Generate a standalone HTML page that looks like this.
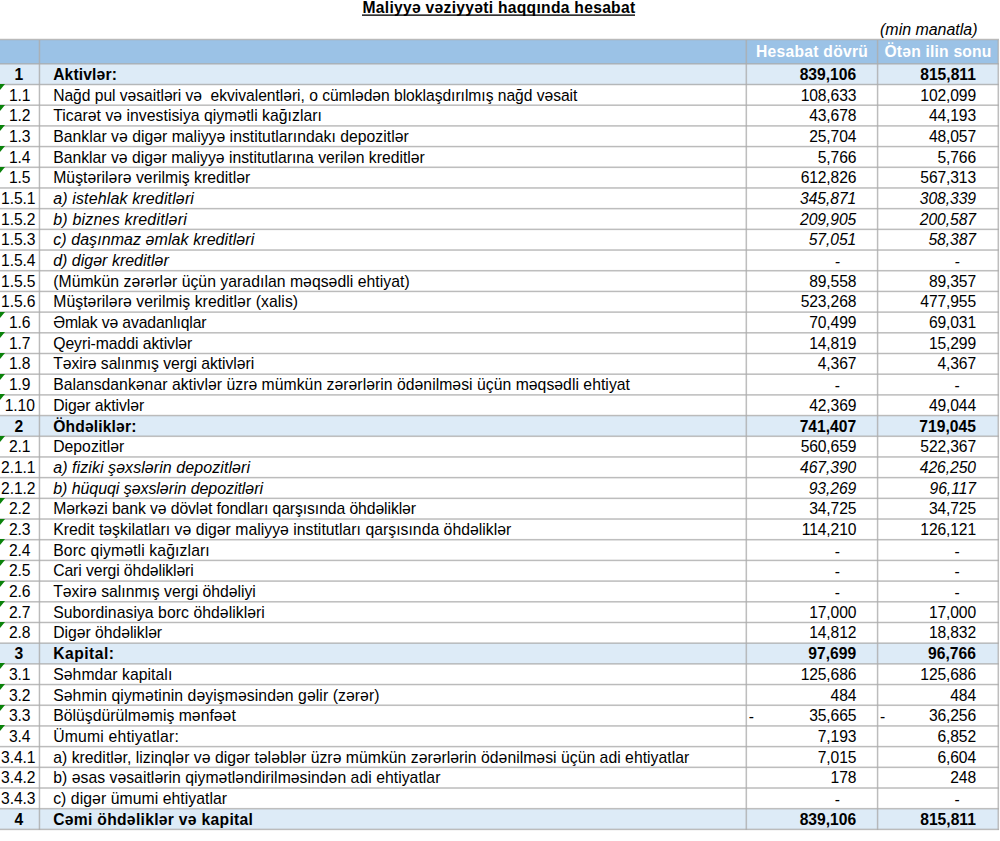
<!DOCTYPE html>
<html><head><meta charset="utf-8"><title>Maliyyə vəziyyəti haqqında hesabat</title>
<style>
*{margin:0;padding:0;box-sizing:border-box}
html,body{width:1000px;height:841px;background:#fff;overflow:hidden}
body{position:relative;font-family:"Liberation Sans",sans-serif;color:#000}
.t{position:absolute;white-space:nowrap;line-height:20px}
.b{font-weight:bold}
.i{font-style:italic}
.w{color:#fff}
.tri{position:absolute;left:0;width:0;height:0;border-top:6px solid #0a820a;border-right:5.5px solid transparent}
</style></head>
<body>
<div style="position:absolute;left:0;width:998px;top:40px;height:24px;background:#9bc2e6"></div>
<div style="position:absolute;left:0;width:998px;top:64px;height:21px;background:#ddebf7"></div>
<div style="position:absolute;left:0;width:998px;top:416px;height:20px;background:#ddebf7"></div>
<div style="position:absolute;left:0;width:998px;top:643px;height:21px;background:#ddebf7"></div>
<div style="position:absolute;left:0;width:998px;top:809px;height:20px;background:#ddebf7"></div>
<div style="position:absolute;left:0px;width:999px;top:38px;height:1px;background:rgba(172,172,172,0.192)"></div>
<div style="position:absolute;left:0px;width:999px;top:39px;height:1px;background:rgba(172,172,172,0.833)"></div>
<div style="position:absolute;left:0px;width:999px;top:40px;height:1px;background:rgba(172,172,172,0.192)"></div>
<div style="position:absolute;left:0px;width:999px;top:63px;height:1px;background:rgba(172,172,172,0.745)"></div>
<div style="position:absolute;left:0px;width:999px;top:64px;height:1px;background:rgba(172,172,172,0.472)"></div>
<div style="position:absolute;left:0px;width:999px;top:83px;height:1px;background:rgba(172,172,172,0.186)"></div>
<div style="position:absolute;left:0px;width:999px;top:84px;height:1px;background:rgba(172,172,172,0.830)"></div>
<div style="position:absolute;left:0px;width:999px;top:85px;height:1px;background:rgba(172,172,172,0.200)"></div>
<div style="position:absolute;left:0px;width:999px;top:104px;height:1px;background:rgba(172,172,172,0.454)"></div>
<div style="position:absolute;left:0px;width:999px;top:105px;height:1px;background:rgba(172,172,172,0.761)"></div>
<div style="position:absolute;left:0px;width:999px;top:106px;height:1px;background:rgba(172,172,172,0.002)"></div>
<div style="position:absolute;left:0px;width:999px;top:125px;height:1px;background:rgba(172,172,172,0.690)"></div>
<div style="position:absolute;left:0px;width:999px;top:126px;height:1px;background:rgba(172,172,172,0.527)"></div>
<div style="position:absolute;left:0px;width:999px;top:145px;height:1px;background:rgba(172,172,172,0.145)"></div>
<div style="position:absolute;left:0px;width:999px;top:146px;height:1px;background:rgba(172,172,172,0.815)"></div>
<div style="position:absolute;left:0px;width:999px;top:147px;height:1px;background:rgba(172,172,172,0.257)"></div>
<div style="position:absolute;left:0px;width:999px;top:166px;height:1px;background:rgba(172,172,172,0.381)"></div>
<div style="position:absolute;left:0px;width:999px;top:167px;height:1px;background:rgba(172,172,172,0.781)"></div>
<div style="position:absolute;left:0px;width:999px;top:168px;height:1px;background:rgba(172,172,172,0.054)"></div>
<div style="position:absolute;left:0px;width:999px;top:187px;height:1px;background:rgba(172,172,172,0.634)"></div>
<div style="position:absolute;left:0px;width:999px;top:188px;height:1px;background:rgba(172,172,172,0.583)"></div>
<div style="position:absolute;left:0px;width:999px;top:207px;height:1px;background:rgba(172,172,172,0.100)"></div>
<div style="position:absolute;left:0px;width:999px;top:208px;height:1px;background:rgba(172,172,172,0.798)"></div>
<div style="position:absolute;left:0px;width:999px;top:209px;height:1px;background:rgba(172,172,172,0.319)"></div>
<div style="position:absolute;left:0px;width:999px;top:228px;height:1px;background:rgba(172,172,172,0.315)"></div>
<div style="position:absolute;left:0px;width:999px;top:229px;height:1px;background:rgba(172,172,172,0.799)"></div>
<div style="position:absolute;left:0px;width:999px;top:230px;height:1px;background:rgba(172,172,172,0.103)"></div>
<div style="position:absolute;left:0px;width:999px;top:249px;height:1px;background:rgba(172,172,172,0.579)"></div>
<div style="position:absolute;left:0px;width:999px;top:250px;height:1px;background:rgba(172,172,172,0.638)"></div>
<div style="position:absolute;left:0px;width:999px;top:269px;height:1px;background:rgba(172,172,172,0.051)"></div>
<div style="position:absolute;left:0px;width:999px;top:270px;height:1px;background:rgba(172,172,172,0.780)"></div>
<div style="position:absolute;left:0px;width:999px;top:271px;height:1px;background:rgba(172,172,172,0.386)"></div>
<div style="position:absolute;left:0px;width:999px;top:290px;height:1px;background:rgba(172,172,172,0.253)"></div>
<div style="position:absolute;left:0px;width:999px;top:291px;height:1px;background:rgba(172,172,172,0.816)"></div>
<div style="position:absolute;left:0px;width:999px;top:292px;height:1px;background:rgba(172,172,172,0.148)"></div>
<div style="position:absolute;left:0px;width:999px;top:311px;height:1px;background:rgba(172,172,172,0.523)"></div>
<div style="position:absolute;left:0px;width:999px;top:312px;height:1px;background:rgba(172,172,172,0.694)"></div>
<div style="position:absolute;left:0px;width:999px;top:332px;height:1px;background:rgba(172,172,172,0.758)"></div>
<div style="position:absolute;left:0px;width:999px;top:333px;height:1px;background:rgba(172,172,172,0.459)"></div>
<div style="position:absolute;left:0px;width:999px;top:352px;height:1px;background:rgba(172,172,172,0.197)"></div>
<div style="position:absolute;left:0px;width:999px;top:353px;height:1px;background:rgba(172,172,172,0.831)"></div>
<div style="position:absolute;left:0px;width:999px;top:354px;height:1px;background:rgba(172,172,172,0.189)"></div>
<div style="position:absolute;left:0px;width:999px;top:373px;height:1px;background:rgba(172,172,172,0.468)"></div>
<div style="position:absolute;left:0px;width:999px;top:374px;height:1px;background:rgba(172,172,172,0.749)"></div>
<div style="position:absolute;left:0px;width:999px;top:394px;height:1px;background:rgba(172,172,172,0.703)"></div>
<div style="position:absolute;left:0px;width:999px;top:395px;height:1px;background:rgba(172,172,172,0.514)"></div>
<div style="position:absolute;left:0px;width:999px;top:414px;height:1px;background:rgba(172,172,172,0.155)"></div>
<div style="position:absolute;left:0px;width:999px;top:415px;height:1px;background:rgba(172,172,172,0.819)"></div>
<div style="position:absolute;left:0px;width:999px;top:416px;height:1px;background:rgba(172,172,172,0.244)"></div>
<div style="position:absolute;left:0px;width:999px;top:435px;height:1px;background:rgba(172,172,172,0.398)"></div>
<div style="position:absolute;left:0px;width:999px;top:436px;height:1px;background:rgba(172,172,172,0.777)"></div>
<div style="position:absolute;left:0px;width:999px;top:437px;height:1px;background:rgba(172,172,172,0.043)"></div>
<div style="position:absolute;left:0px;width:999px;top:456px;height:1px;background:rgba(172,172,172,0.647)"></div>
<div style="position:absolute;left:0px;width:999px;top:457px;height:1px;background:rgba(172,172,172,0.570)"></div>
<div style="position:absolute;left:0px;width:999px;top:476px;height:1px;background:rgba(172,172,172,0.111)"></div>
<div style="position:absolute;left:0px;width:999px;top:477px;height:1px;background:rgba(172,172,172,0.802)"></div>
<div style="position:absolute;left:0px;width:999px;top:478px;height:1px;background:rgba(172,172,172,0.304)"></div>
<div style="position:absolute;left:0px;width:999px;top:497px;height:1px;background:rgba(172,172,172,0.330)"></div>
<div style="position:absolute;left:0px;width:999px;top:498px;height:1px;background:rgba(172,172,172,0.795)"></div>
<div style="position:absolute;left:0px;width:999px;top:499px;height:1px;background:rgba(172,172,172,0.092)"></div>
<div style="position:absolute;left:0px;width:999px;top:518px;height:1px;background:rgba(172,172,172,0.592)"></div>
<div style="position:absolute;left:0px;width:999px;top:519px;height:1px;background:rgba(172,172,172,0.625)"></div>
<div style="position:absolute;left:0px;width:999px;top:538px;height:1px;background:rgba(172,172,172,0.063)"></div>
<div style="position:absolute;left:0px;width:999px;top:539px;height:1px;background:rgba(172,172,172,0.784)"></div>
<div style="position:absolute;left:0px;width:999px;top:540px;height:1px;background:rgba(172,172,172,0.370)"></div>
<div style="position:absolute;left:0px;width:999px;top:559px;height:1px;background:rgba(172,172,172,0.267)"></div>
<div style="position:absolute;left:0px;width:999px;top:560px;height:1px;background:rgba(172,172,172,0.812)"></div>
<div style="position:absolute;left:0px;width:999px;top:561px;height:1px;background:rgba(172,172,172,0.138)"></div>
<div style="position:absolute;left:0px;width:999px;top:580px;height:1px;background:rgba(172,172,172,0.536)"></div>
<div style="position:absolute;left:0px;width:999px;top:581px;height:1px;background:rgba(172,172,172,0.681)"></div>
<div style="position:absolute;left:0px;width:999px;top:600px;height:1px;background:rgba(172,172,172,0.011)"></div>
<div style="position:absolute;left:0px;width:999px;top:601px;height:1px;background:rgba(172,172,172,0.765)"></div>
<div style="position:absolute;left:0px;width:999px;top:602px;height:1px;background:rgba(172,172,172,0.442)"></div>
<div style="position:absolute;left:0px;width:999px;top:621px;height:1px;background:rgba(172,172,172,0.209)"></div>
<div style="position:absolute;left:0px;width:999px;top:622px;height:1px;background:rgba(172,172,172,0.828)"></div>
<div style="position:absolute;left:0px;width:999px;top:623px;height:1px;background:rgba(172,172,172,0.180)"></div>
<div style="position:absolute;left:0px;width:999px;top:642px;height:1px;background:rgba(172,172,172,0.481)"></div>
<div style="position:absolute;left:0px;width:999px;top:643px;height:1px;background:rgba(172,172,172,0.736)"></div>
<div style="position:absolute;left:0px;width:999px;top:663px;height:1px;background:rgba(172,172,172,0.716)"></div>
<div style="position:absolute;left:0px;width:999px;top:664px;height:1px;background:rgba(172,172,172,0.501)"></div>
<div style="position:absolute;left:0px;width:999px;top:683px;height:1px;background:rgba(172,172,172,0.164)"></div>
<div style="position:absolute;left:0px;width:999px;top:684px;height:1px;background:rgba(172,172,172,0.822)"></div>
<div style="position:absolute;left:0px;width:999px;top:685px;height:1px;background:rgba(172,172,172,0.230)"></div>
<div style="position:absolute;left:0px;width:999px;top:704px;height:1px;background:rgba(172,172,172,0.415)"></div>
<div style="position:absolute;left:0px;width:999px;top:705px;height:1px;background:rgba(172,172,172,0.772)"></div>
<div style="position:absolute;left:0px;width:999px;top:706px;height:1px;background:rgba(172,172,172,0.030)"></div>
<div style="position:absolute;left:0px;width:999px;top:725px;height:1px;background:rgba(172,172,172,0.660)"></div>
<div style="position:absolute;left:0px;width:999px;top:726px;height:1px;background:rgba(172,172,172,0.557)"></div>
<div style="position:absolute;left:0px;width:999px;top:745px;height:1px;background:rgba(172,172,172,0.121)"></div>
<div style="position:absolute;left:0px;width:999px;top:746px;height:1px;background:rgba(172,172,172,0.806)"></div>
<div style="position:absolute;left:0px;width:999px;top:747px;height:1px;background:rgba(172,172,172,0.290)"></div>
<div style="position:absolute;left:0px;width:999px;top:766px;height:1px;background:rgba(172,172,172,0.345)"></div>
<div style="position:absolute;left:0px;width:999px;top:767px;height:1px;background:rgba(172,172,172,0.791)"></div>
<div style="position:absolute;left:0px;width:999px;top:768px;height:1px;background:rgba(172,172,172,0.081)"></div>
<div style="position:absolute;left:0px;width:999px;top:787px;height:1px;background:rgba(172,172,172,0.605)"></div>
<div style="position:absolute;left:0px;width:999px;top:788px;height:1px;background:rgba(172,172,172,0.612)"></div>
<div style="position:absolute;left:0px;width:999px;top:807px;height:1px;background:rgba(172,172,172,0.074)"></div>
<div style="position:absolute;left:0px;width:999px;top:808px;height:1px;background:rgba(172,172,172,0.788)"></div>
<div style="position:absolute;left:0px;width:999px;top:809px;height:1px;background:rgba(172,172,172,0.354)"></div>
<div style="position:absolute;left:0px;width:999px;top:828px;height:1px;background:rgba(172,172,172,0.281)"></div>
<div style="position:absolute;left:0px;width:999px;top:829px;height:1px;background:rgba(172,172,172,0.808)"></div>
<div style="position:absolute;left:0px;width:999px;top:830px;height:1px;background:rgba(172,172,172,0.127)"></div>
<div style="position:absolute;top:40px;height:790px;left:38px;width:1px;background:rgba(172,172,172,0.230)"></div>
<div style="position:absolute;top:40px;height:790px;left:39px;width:1px;background:rgba(172,172,172,0.822)"></div>
<div style="position:absolute;top:40px;height:790px;left:40px;width:1px;background:rgba(172,172,172,0.164)"></div>
<div style="position:absolute;top:40px;height:790px;left:745px;width:1px;background:rgba(172,172,172,0.358)"></div>
<div style="position:absolute;top:40px;height:790px;left:746px;width:1px;background:rgba(172,172,172,0.787)"></div>
<div style="position:absolute;top:40px;height:790px;left:747px;width:1px;background:rgba(172,172,172,0.072)"></div>
<div style="position:absolute;top:40px;height:790px;left:876px;width:1px;background:rgba(172,172,172,0.135)"></div>
<div style="position:absolute;top:40px;height:790px;left:877px;width:1px;background:rgba(172,172,172,0.811)"></div>
<div style="position:absolute;top:40px;height:790px;left:878px;width:1px;background:rgba(172,172,172,0.270)"></div>
<div style="position:absolute;top:40px;height:790px;left:997px;width:1px;background:rgba(172,172,172,0.358)"></div>
<div style="position:absolute;top:40px;height:790px;left:998px;width:1px;background:rgba(172,172,172,0.787)"></div>
<div style="position:absolute;top:40px;height:790px;left:999px;width:1px;background:rgba(172,172,172,0.072)"></div>
<div class="t b" style="left:362.5px;top:-2px;font-size:15.65px;letter-spacing:0.28px;">Maliyyə vəziyyəti haqqında hesabat</div>
<div style="position:absolute;left:362px;width:273px;top:14px;height:1px;background:rgba(0,0,0,.55)"></div>
<div style="position:absolute;left:362px;width:273px;top:15px;height:1px;background:rgba(0,0,0,.8)"></div>
<div class="t i" style="right:22.5px;top:20px;font-size:15.95px;">(min manatla)</div>
<div class="t b w" style="left:746.3px;width:131.56000000000006px;text-align:center;top:42px;font-size:15.65px;letter-spacing:0.26px;">Hesabat dövrü</div>
<div class="t b w" style="left:877.6px;width:120.89999999999998px;text-align:center;top:42px;font-size:15.65px;letter-spacing:0.2px;">Ötən ilin sonu</div>
<div class="t b" style="left:-10.8px;width:59.5px;text-align:center;top:65px;font-size:15.65px;">1</div>
<div class="t b" style="left:53.2px;top:65px;font-size:15.65px;letter-spacing:0.137px;">Aktivlər:</div>
<div class="t b" style="right:143.79999999999995px;top:65px;font-size:15.65px;">839,106</div>
<div class="t b" style="right:24.100000000000023px;top:65px;font-size:15.65px;">815,811</div>
<div class="t " style="left:-10px;width:59.5px;text-align:center;top:86px;font-size:15.65px;letter-spacing:-0.1px;">1.1</div>
<div class="t " style="left:53.2px;top:86px;font-size:15.65px;letter-spacing:-0.034px;">Nağd pul vəsaitləri və&nbsp; ekvivalentləri, o cümlədən bloklaşdırılmış nağd vəsait</div>
<div class="t " style="right:143.67999999999995px;top:86px;font-size:15.65px;letter-spacing:-0.12px;">108,633</div>
<div class="t " style="right:23.980000000000018px;top:86px;font-size:15.65px;letter-spacing:-0.12px;">102,099</div>
<div class="tri" style="top:84px"></div>
<div class="t " style="left:-10px;width:59.5px;text-align:center;top:106px;font-size:15.65px;letter-spacing:-0.1px;">1.2</div>
<div class="t " style="left:53.2px;top:106px;font-size:15.75px;letter-spacing:0.037px;">Ticarət və investisiya qiymətli kağızları</div>
<div class="t " style="right:143.67999999999995px;top:106px;font-size:15.65px;letter-spacing:-0.12px;">43,678</div>
<div class="t " style="right:23.980000000000018px;top:106px;font-size:15.65px;letter-spacing:-0.12px;">44,193</div>
<div class="tri" style="top:105px"></div>
<div class="t " style="left:-10px;width:59.5px;text-align:center;top:127px;font-size:15.65px;letter-spacing:-0.1px;">1.3</div>
<div class="t " style="left:53.2px;top:127px;font-size:15.75px;letter-spacing:0.019px;">Banklar və digər maliyyə institutlarındakı depozitlər</div>
<div class="t " style="right:143.67999999999995px;top:127px;font-size:15.65px;letter-spacing:-0.12px;">25,704</div>
<div class="t " style="right:23.980000000000018px;top:127px;font-size:15.65px;letter-spacing:-0.12px;">48,057</div>
<div class="tri" style="top:125px"></div>
<div class="t " style="left:-10px;width:59.5px;text-align:center;top:148px;font-size:15.65px;letter-spacing:-0.1px;">1.4</div>
<div class="t " style="left:53.2px;top:148px;font-size:15.75px;letter-spacing:-0.007px;">Banklar və digər maliyyə institutlarına verilən kreditlər</div>
<div class="t " style="right:143.67999999999995px;top:148px;font-size:15.65px;letter-spacing:-0.12px;">5,766</div>
<div class="t " style="right:23.980000000000018px;top:148px;font-size:15.65px;letter-spacing:-0.12px;">5,766</div>
<div class="tri" style="top:146px"></div>
<div class="t " style="left:-10px;width:59.5px;text-align:center;top:168px;font-size:15.65px;letter-spacing:-0.1px;">1.5</div>
<div class="t " style="left:53.2px;top:168px;font-size:15.75px;letter-spacing:0.038px;">Müştərilərə verilmiş kreditlər</div>
<div class="t " style="right:143.67999999999995px;top:168px;font-size:15.65px;letter-spacing:-0.12px;">612,826</div>
<div class="t " style="right:23.980000000000018px;top:168px;font-size:15.65px;letter-spacing:-0.12px;">567,313</div>
<div class="tri" style="top:167px"></div>
<div class="t " style="left:-11.5px;width:59.5px;text-align:center;top:189px;font-size:15.65px;letter-spacing:-0.1px;">1.5.1</div>
<div class="t i" style="left:53.2px;top:189px;font-size:16.0px;letter-spacing:0.138px;">a) istehlak kreditləri</div>
<div class="t i" style="right:143.75px;top:189px;font-size:15.65px;letter-spacing:-0.05px;">345,871</div>
<div class="t i" style="right:24.050000000000068px;top:189px;font-size:15.65px;letter-spacing:-0.05px;">308,339</div>
<div class="t " style="left:-11.5px;width:59.5px;text-align:center;top:210px;font-size:15.65px;letter-spacing:-0.1px;">1.5.2</div>
<div class="t i" style="left:53.2px;top:210px;font-size:16.0px;letter-spacing:0.195px;">b) biznes kreditləri</div>
<div class="t i" style="right:143.75px;top:210px;font-size:15.65px;letter-spacing:-0.05px;">209,905</div>
<div class="t i" style="right:24.050000000000068px;top:210px;font-size:15.65px;letter-spacing:-0.05px;">200,587</div>
<div class="t " style="left:-11.5px;width:59.5px;text-align:center;top:230px;font-size:15.65px;letter-spacing:-0.1px;">1.5.3</div>
<div class="t i" style="left:53.2px;top:230px;font-size:16.0px;letter-spacing:0.07px;">c) daşınmaz əmlak kreditləri</div>
<div class="t i" style="right:143.75px;top:230px;font-size:15.65px;letter-spacing:-0.05px;">57,051</div>
<div class="t i" style="right:24.050000000000068px;top:230px;font-size:15.65px;letter-spacing:-0.05px;">58,387</div>
<div class="t " style="left:-11.5px;width:59.5px;text-align:center;top:251px;font-size:15.65px;letter-spacing:-0.1px;">1.5.4</div>
<div class="t i" style="left:53.2px;top:251px;font-size:16.0px;">d) digər kreditlər</div>
<div class="t i" style="right:160.0999999999999px;top:252px;font-size:15.65px;">-</div>
<div class="t i" style="right:40.39999999999998px;top:252px;font-size:15.65px;">-</div>
<div class="t " style="left:-11.5px;width:59.5px;text-align:center;top:272px;font-size:15.65px;letter-spacing:-0.1px;">1.5.5</div>
<div class="t " style="left:53.2px;top:272px;font-size:15.75px;letter-spacing:0.04px;">(Mümkün zərərlər üçün yaradılan məqsədli ehtiyat)</div>
<div class="t " style="right:143.67999999999995px;top:272px;font-size:15.65px;letter-spacing:-0.12px;">89,558</div>
<div class="t " style="right:23.980000000000018px;top:272px;font-size:15.65px;letter-spacing:-0.12px;">89,357</div>
<div class="t " style="left:-11.5px;width:59.5px;text-align:center;top:292px;font-size:15.65px;letter-spacing:-0.1px;">1.5.6</div>
<div class="t " style="left:53.2px;top:292px;font-size:15.75px;letter-spacing:0.068px;">Müştərilərə verilmiş kreditlər (xalis)</div>
<div class="t " style="right:143.67999999999995px;top:292px;font-size:15.65px;letter-spacing:-0.12px;">523,268</div>
<div class="t " style="right:23.980000000000018px;top:292px;font-size:15.65px;letter-spacing:-0.12px;">477,955</div>
<div class="t " style="left:-10px;width:59.5px;text-align:center;top:313px;font-size:15.65px;letter-spacing:-0.1px;">1.6</div>
<div class="t " style="left:53.2px;top:313px;font-size:15.75px;letter-spacing:-0.145px;">Əmlak və avadanlıqlar</div>
<div class="t " style="right:143.67999999999995px;top:313px;font-size:15.65px;letter-spacing:-0.12px;">70,499</div>
<div class="t " style="right:23.980000000000018px;top:313px;font-size:15.65px;letter-spacing:-0.12px;">69,031</div>
<div class="tri" style="top:312px"></div>
<div class="t " style="left:-10px;width:59.5px;text-align:center;top:334px;font-size:15.65px;letter-spacing:-0.1px;">1.7</div>
<div class="t " style="left:53.2px;top:334px;font-size:15.75px;letter-spacing:-0.047px;">Qeyri-maddi aktivlər</div>
<div class="t " style="right:143.67999999999995px;top:334px;font-size:15.65px;letter-spacing:-0.12px;">14,819</div>
<div class="t " style="right:23.980000000000018px;top:334px;font-size:15.65px;letter-spacing:-0.12px;">15,299</div>
<div class="tri" style="top:332px"></div>
<div class="t " style="left:-10px;width:59.5px;text-align:center;top:354px;font-size:15.65px;letter-spacing:-0.1px;">1.8</div>
<div class="t " style="left:53.2px;top:354px;font-size:15.75px;letter-spacing:-0.07px;">Təxirə salınmış vergi aktivləri</div>
<div class="t " style="right:143.67999999999995px;top:354px;font-size:15.65px;letter-spacing:-0.12px;">4,367</div>
<div class="t " style="right:23.980000000000018px;top:354px;font-size:15.65px;letter-spacing:-0.12px;">4,367</div>
<div class="tri" style="top:353px"></div>
<div class="t " style="left:-10px;width:59.5px;text-align:center;top:375px;font-size:15.65px;letter-spacing:-0.1px;">1.9</div>
<div class="t " style="left:53.2px;top:375px;font-size:15.75px;letter-spacing:0.032px;">Balansdankənar aktivlər üzrə mümkün zərərlərin ödənilməsi üçün məqsədli ehtiyat</div>
<div class="t " style="right:160.0999999999999px;top:376px;font-size:15.65px;">-</div>
<div class="t " style="right:40.39999999999998px;top:376px;font-size:15.65px;">-</div>
<div class="tri" style="top:374px"></div>
<div class="t " style="left:-10px;width:59.5px;text-align:center;top:396px;font-size:15.65px;letter-spacing:-0.1px;">1.10</div>
<div class="t " style="left:53.2px;top:396px;font-size:15.75px;letter-spacing:-0.069px;">Digər aktivlər</div>
<div class="t " style="right:143.67999999999995px;top:396px;font-size:15.65px;letter-spacing:-0.12px;">42,369</div>
<div class="t " style="right:23.980000000000018px;top:396px;font-size:15.65px;letter-spacing:-0.12px;">49,044</div>
<div class="tri" style="top:394px"></div>
<div class="t b" style="left:-10.8px;width:59.5px;text-align:center;top:417px;font-size:15.65px;">2</div>
<div class="t b" style="left:53.2px;top:417px;font-size:15.65px;letter-spacing:0.15px;">Öhdəliklər:</div>
<div class="t b" style="right:143.79999999999995px;top:417px;font-size:15.65px;">741,407</div>
<div class="t b" style="right:24.100000000000023px;top:417px;font-size:15.65px;">719,045</div>
<div class="t " style="left:-10px;width:59.5px;text-align:center;top:437px;font-size:15.65px;letter-spacing:-0.1px;">2.1</div>
<div class="t " style="left:53.2px;top:437px;font-size:15.75px;letter-spacing:0.011px;">Depozitlər</div>
<div class="t " style="right:143.67999999999995px;top:437px;font-size:15.65px;letter-spacing:-0.12px;">560,659</div>
<div class="t " style="right:23.980000000000018px;top:437px;font-size:15.65px;letter-spacing:-0.12px;">522,367</div>
<div class="tri" style="top:436px"></div>
<div class="t " style="left:-11.5px;width:59.5px;text-align:center;top:458px;font-size:15.65px;letter-spacing:-0.1px;">2.1.1</div>
<div class="t i" style="left:53.2px;top:458px;font-size:16.0px;letter-spacing:0.067px;">a) fiziki şəxslərin depozitləri</div>
<div class="t i" style="right:143.75px;top:458px;font-size:15.65px;letter-spacing:-0.05px;">467,390</div>
<div class="t i" style="right:24.050000000000068px;top:458px;font-size:15.65px;letter-spacing:-0.05px;">426,250</div>
<div class="t " style="left:-11.5px;width:59.5px;text-align:center;top:479px;font-size:15.65px;letter-spacing:-0.1px;">2.1.2</div>
<div class="t i" style="left:53.2px;top:479px;font-size:16.0px;letter-spacing:-0.063px;">b) hüquqi şəxslərin depozitləri</div>
<div class="t i" style="right:143.75px;top:479px;font-size:15.65px;letter-spacing:-0.05px;">93,269</div>
<div class="t i" style="right:24.050000000000068px;top:479px;font-size:15.65px;letter-spacing:-0.05px;">96,117</div>
<div class="t " style="left:-10px;width:59.5px;text-align:center;top:499px;font-size:15.65px;letter-spacing:-0.1px;">2.2</div>
<div class="t " style="left:53.2px;top:499px;font-size:15.75px;letter-spacing:-0.094px;">Mərkəzi bank və dövlət fondları qarşısında öhdəliklər</div>
<div class="t " style="right:143.67999999999995px;top:499px;font-size:15.65px;letter-spacing:-0.12px;">34,725</div>
<div class="t " style="right:23.980000000000018px;top:499px;font-size:15.65px;letter-spacing:-0.12px;">34,725</div>
<div class="tri" style="top:498px"></div>
<div class="t " style="left:-10px;width:59.5px;text-align:center;top:520px;font-size:15.65px;letter-spacing:-0.1px;">2.3</div>
<div class="t " style="left:53.2px;top:520px;font-size:15.75px;letter-spacing:0.029px;">Kredit təşkilatları və digər maliyyə institutları qarşısında öhdəliklər</div>
<div class="t " style="right:143.67999999999995px;top:520px;font-size:15.65px;letter-spacing:-0.12px;">114,210</div>
<div class="t " style="right:23.980000000000018px;top:520px;font-size:15.65px;letter-spacing:-0.12px;">126,121</div>
<div class="tri" style="top:519px"></div>
<div class="t " style="left:-10px;width:59.5px;text-align:center;top:541px;font-size:15.65px;letter-spacing:-0.1px;">2.4</div>
<div class="t " style="left:53.2px;top:541px;font-size:15.75px;letter-spacing:0.114px;">Borc qiymətli kağızları</div>
<div class="t " style="right:160.0999999999999px;top:542px;font-size:15.65px;">-</div>
<div class="t " style="right:40.39999999999998px;top:542px;font-size:15.65px;">-</div>
<div class="tri" style="top:539px"></div>
<div class="t " style="left:-10px;width:59.5px;text-align:center;top:561px;font-size:15.65px;letter-spacing:-0.1px;">2.5</div>
<div class="t " style="left:53.2px;top:561px;font-size:15.75px;letter-spacing:-0.1px;">Cari vergi öhdəlikləri</div>
<div class="t " style="right:160.0999999999999px;top:562px;font-size:15.65px;">-</div>
<div class="t " style="right:40.39999999999998px;top:562px;font-size:15.65px;">-</div>
<div class="tri" style="top:560px"></div>
<div class="t " style="left:-10px;width:59.5px;text-align:center;top:582px;font-size:15.65px;letter-spacing:-0.1px;">2.6</div>
<div class="t " style="left:53.2px;top:582px;font-size:15.75px;letter-spacing:-0.017px;">Təxirə salınmış vergi öhdəliyi</div>
<div class="t " style="right:160.0999999999999px;top:583px;font-size:15.65px;">-</div>
<div class="t " style="right:40.39999999999998px;top:583px;font-size:15.65px;">-</div>
<div class="tri" style="top:581px"></div>
<div class="t " style="left:-10px;width:59.5px;text-align:center;top:603px;font-size:15.65px;letter-spacing:-0.1px;">2.7</div>
<div class="t " style="left:53.2px;top:603px;font-size:15.75px;letter-spacing:0.052px;">Subordinasiya borc öhdəlikləri</div>
<div class="t " style="right:143.67999999999995px;top:603px;font-size:15.65px;letter-spacing:-0.12px;">17,000</div>
<div class="t " style="right:23.980000000000018px;top:603px;font-size:15.65px;letter-spacing:-0.12px;">17,000</div>
<div class="tri" style="top:601px"></div>
<div class="t " style="left:-10px;width:59.5px;text-align:center;top:623px;font-size:15.65px;letter-spacing:-0.1px;">2.8</div>
<div class="t " style="left:53.2px;top:623px;font-size:15.75px;letter-spacing:-0.033px;">Digər öhdəliklər</div>
<div class="t " style="right:143.67999999999995px;top:623px;font-size:15.65px;letter-spacing:-0.12px;">14,812</div>
<div class="t " style="right:23.980000000000018px;top:623px;font-size:15.65px;letter-spacing:-0.12px;">18,832</div>
<div class="tri" style="top:622px"></div>
<div class="t b" style="left:-10.8px;width:59.5px;text-align:center;top:644px;font-size:15.65px;">3</div>
<div class="t b" style="left:53.2px;top:644px;font-size:15.65px;letter-spacing:0.5px;">Kapital:</div>
<div class="t b" style="right:143.79999999999995px;top:644px;font-size:15.65px;">97,699</div>
<div class="t b" style="right:24.100000000000023px;top:644px;font-size:15.65px;">96,766</div>
<div class="t " style="left:-10px;width:59.5px;text-align:center;top:665px;font-size:15.65px;letter-spacing:-0.1px;">3.1</div>
<div class="t " style="left:53.2px;top:665px;font-size:15.75px;letter-spacing:0.06px;">Səhmdar kapitalı</div>
<div class="t " style="right:143.67999999999995px;top:665px;font-size:15.65px;letter-spacing:-0.12px;">125,686</div>
<div class="t " style="right:23.980000000000018px;top:665px;font-size:15.65px;letter-spacing:-0.12px;">125,686</div>
<div class="tri" style="top:663px"></div>
<div class="t " style="left:-10px;width:59.5px;text-align:center;top:686px;font-size:15.65px;letter-spacing:-0.1px;">3.2</div>
<div class="t " style="left:53.2px;top:686px;font-size:15.75px;letter-spacing:0.075px;">Səhmin qiymətinin dəyişməsindən gəlir (zərər)</div>
<div class="t " style="right:143.67999999999995px;top:686px;font-size:15.65px;letter-spacing:-0.12px;">484</div>
<div class="t " style="right:23.980000000000018px;top:686px;font-size:15.65px;letter-spacing:-0.12px;">484</div>
<div class="tri" style="top:684px"></div>
<div class="t " style="left:-10px;width:59.5px;text-align:center;top:706px;font-size:15.65px;letter-spacing:-0.1px;">3.3</div>
<div class="t " style="left:53.2px;top:706px;font-size:15.75px;letter-spacing:0.023px;">Bölüşdürülməmiş mənfəət</div>
<div class="t " style="left:748.8px;top:707px;font-size:15.65px;">-</div>
<div class="t " style="right:143.67999999999995px;top:706px;font-size:15.65px;letter-spacing:-0.12px;">35,665</div>
<div class="t " style="left:880.1px;top:707px;font-size:15.65px;">-</div>
<div class="t " style="right:23.980000000000018px;top:706px;font-size:15.65px;letter-spacing:-0.12px;">36,256</div>
<div class="tri" style="top:705px"></div>
<div class="t " style="left:-10px;width:59.5px;text-align:center;top:727px;font-size:15.65px;letter-spacing:-0.1px;">3.4</div>
<div class="t " style="left:53.2px;top:727px;font-size:15.75px;letter-spacing:0.194px;">Ümumi ehtiyatlar:</div>
<div class="t " style="right:143.67999999999995px;top:727px;font-size:15.65px;letter-spacing:-0.12px;">7,193</div>
<div class="t " style="right:23.980000000000018px;top:727px;font-size:15.65px;letter-spacing:-0.12px;">6,852</div>
<div class="tri" style="top:725px"></div>
<div class="t " style="left:-11.5px;width:59.5px;text-align:center;top:748px;font-size:15.65px;letter-spacing:-0.1px;">3.4.1</div>
<div class="t " style="left:53.2px;top:748px;font-size:15.75px;letter-spacing:0.024px;">a) kreditlər, lizinqlər və digər tələblər üzrə mümkün zərərlərin ödənilməsi üçün adi ehtiyatlar</div>
<div class="t " style="right:143.67999999999995px;top:748px;font-size:15.65px;letter-spacing:-0.12px;">7,015</div>
<div class="t " style="right:23.980000000000018px;top:748px;font-size:15.65px;letter-spacing:-0.12px;">6,604</div>
<div class="t " style="left:-11.5px;width:59.5px;text-align:center;top:768px;font-size:15.65px;letter-spacing:-0.1px;">3.4.2</div>
<div class="t " style="left:53.2px;top:768px;font-size:15.75px;letter-spacing:0.036px;">b) əsas vəsaitlərin qiymətləndirilməsindən adi ehtiyatlar</div>
<div class="t " style="right:143.67999999999995px;top:768px;font-size:15.65px;letter-spacing:-0.12px;">178</div>
<div class="t " style="right:23.980000000000018px;top:768px;font-size:15.65px;letter-spacing:-0.12px;">248</div>
<div class="t " style="left:-11.5px;width:59.5px;text-align:center;top:789px;font-size:15.65px;letter-spacing:-0.1px;">3.4.3</div>
<div class="t " style="left:53.2px;top:789px;font-size:15.75px;letter-spacing:0.062px;">c) digər ümumi ehtiyatlar</div>
<div class="t " style="right:160.0999999999999px;top:790px;font-size:15.65px;">-</div>
<div class="t " style="right:40.39999999999998px;top:790px;font-size:15.65px;">-</div>
<div class="t b" style="left:-10.8px;width:59.5px;text-align:center;top:810px;font-size:15.65px;">4</div>
<div class="t b" style="left:53.2px;top:810px;font-size:15.65px;letter-spacing:0.304px;">Cəmi öhdəliklər və kapital</div>
<div class="t b" style="right:143.79999999999995px;top:810px;font-size:15.65px;">839,106</div>
<div class="t b" style="right:24.100000000000023px;top:810px;font-size:15.65px;">815,811</div>
</body></html>
